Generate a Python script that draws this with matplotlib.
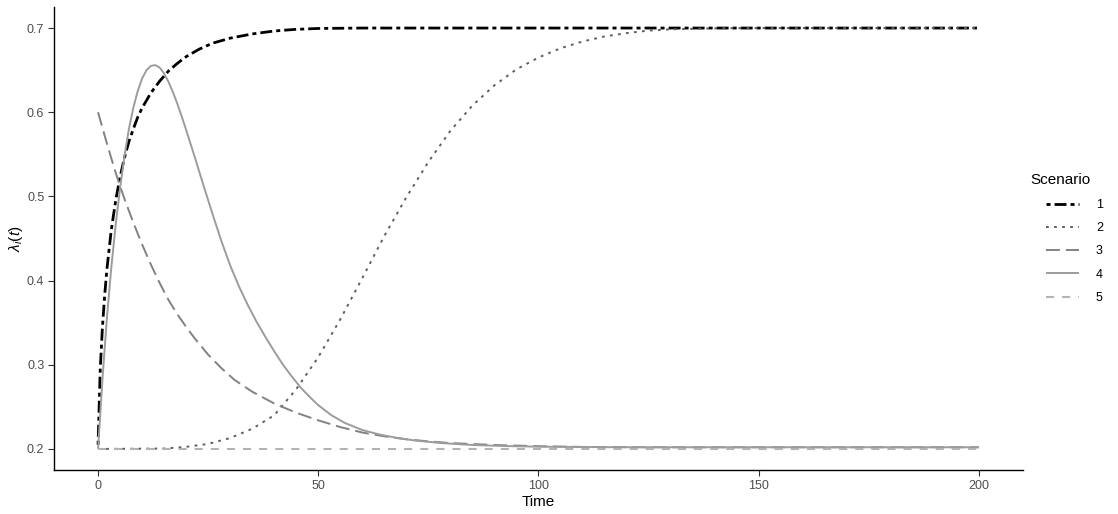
import numpy as np
import matplotlib
matplotlib.use('Agg')
import matplotlib.pyplot as plt

plt.rcParams['font.family'] = ['Liberation Sans', 'DejaVu Sans']
plt.rcParams['lines.scale_dashes'] = False
plt.rcParams['mathtext.fontset'] = 'custom'
plt.rcParams['mathtext.rm'] = 'Liberation Sans'
plt.rcParams['mathtext.it'] = 'Liberation Sans:italic'

# Values
t1 = [0, 0.5, 1, 1.5, 2, 3, 4, 5, 6, 7, 8, 9, 10, 12, 14, 16, 18, 20, 23, 26, 30,
      35, 40, 45, 50, 60, 200]
y1 = [0.205, 0.295, 0.345, 0.382, 0.413, 0.460, 0.495, 0.523, 0.546, 0.565, 0.580,
      0.594, 0.605, 0.623, 0.637, 0.649, 0.658, 0.666, 0.675, 0.682, 0.688, 0.693,
      0.6965, 0.6985, 0.6995, 0.7, 0.7]

t2 = [0, 15, 20, 25, 30, 35, 40, 45, 50, 55, 60, 65, 70, 75, 80, 85, 90, 95, 100,
      105, 110, 115, 120, 125, 130, 140, 150, 200]
y2 = [0.2, 0.2005, 0.2025, 0.206, 0.213, 0.224, 0.240, 0.271, 0.309, 0.354, 0.403,
      0.453, 0.499, 0.541, 0.578, 0.608, 0.632, 0.651, 0.665, 0.676, 0.684, 0.690,
      0.694, 0.697, 0.6985, 0.6997, 0.7, 0.7]

t3 = [0, 2, 4, 6, 8, 10, 12, 14, 16, 18, 20, 22, 25, 28, 31, 35, 40, 45, 50, 55, 60,
      65, 70, 75, 80, 90, 100, 110, 125, 200]
y3 = [0.600, 0.563, 0.528, 0.497, 0.469, 0.443, 0.419, 0.397, 0.377, 0.360, 0.345,
      0.331, 0.312, 0.296, 0.282, 0.268, 0.254, 0.243, 0.234, 0.226, 0.2195, 0.215,
      0.2115, 0.209, 0.207, 0.2047, 0.2033, 0.2024, 0.202, 0.202]

t4 = [0, 1, 2, 3, 4, 5, 6, 7, 8, 9, 10, 11, 12, 13, 14, 15, 16, 17, 18, 19, 20, 22,
      24, 26, 28, 30, 32, 34, 36, 38, 40, 42, 44, 46, 48, 50, 53, 56, 60, 64, 68, 72,
      78, 85, 92, 100, 115, 130, 200]
y4 = [0.200, 0.283, 0.355, 0.415, 0.466, 0.510, 0.548, 0.580, 0.605, 0.625, 0.640,
      0.650, 0.655, 0.656, 0.653, 0.646, 0.636, 0.624, 0.610, 0.595, 0.579, 0.546,
      0.512, 0.479, 0.447, 0.418, 0.393, 0.371, 0.351, 0.333, 0.316, 0.300, 0.286,
      0.273, 0.262, 0.252, 0.240, 0.231, 0.2225, 0.217, 0.213, 0.210, 0.207, 0.2047,
      0.2035, 0.2027, 0.2021, 0.202, 0.202]

t5 = [0, 200]
y5 = [0.2, 0.2]

scenarios = ['1', '2', '3', '4', '5']
series = [(t1, y1), (t2, y2), (t3, y3), (t4, y4), (t5, y5)]
colors = ['#000000', '#5F5F5F', '#828282', '#9C9C9C', '#B3B3B3']
widths = [2.0, 1.4, 1.4, 1.4, 1.5]
dashes = [(2.9, 2.9, 8.6, 2.9), (2.0, 3.8), (10.0, 4.3), None, (5.8, 5.8)]

fig = plt.figure(figsize=(11.18, 5.14), dpi=100)
ax = fig.add_axes([54/1118, 44/514, (1023-54)/1118, (470-7)/514])

handles = []
for lab, (t, y), c, w, d in zip(scenarios, series, colors, widths, dashes):
    line, = ax.plot(t, y, color=c, lw=w, label=lab, solid_capstyle='butt',
                    dash_capstyle='butt', solid_joinstyle='round')
    if d is not None:
        line.set_dashes(d)
    handles.append(line)

ax.set_xlim(-10, 210)
ax.set_ylim(0.175, 0.725)
ax.set_xticks([0, 50, 100, 150, 200])
ax.set_yticks([0.2, 0.3, 0.4, 0.5, 0.6, 0.7])
ax.tick_params(labelsize=9, labelcolor='#4d4d4d', color='#333333', length=4,
               width=0.8, pad=3)
for s in ['top', 'right']:
    ax.spines[s].set_visible(False)
for s in ['left', 'bottom']:
    ax.spines[s].set_linewidth(1.0)
ax.set_xlabel('Time', fontsize=11, labelpad=2)
ax.set_ylabel(r'$\lambda_i(t)$', fontsize=11)
ax.yaxis.set_label_coords(-29/969, 0.5)

fig.text(1030/1118, 1 - 180/514, 'Scenario', fontsize=11, va='center', ha='left')
fig.legend(handles=handles, loc='upper left', bbox_to_anchor=(1041/1118, 1 - 194/514),
           frameon=False, fontsize=9, handlelength=2.6, handletextpad=1.4,
           labelspacing=0.9, borderaxespad=0)

fig.savefig('out.png', dpi=100)
